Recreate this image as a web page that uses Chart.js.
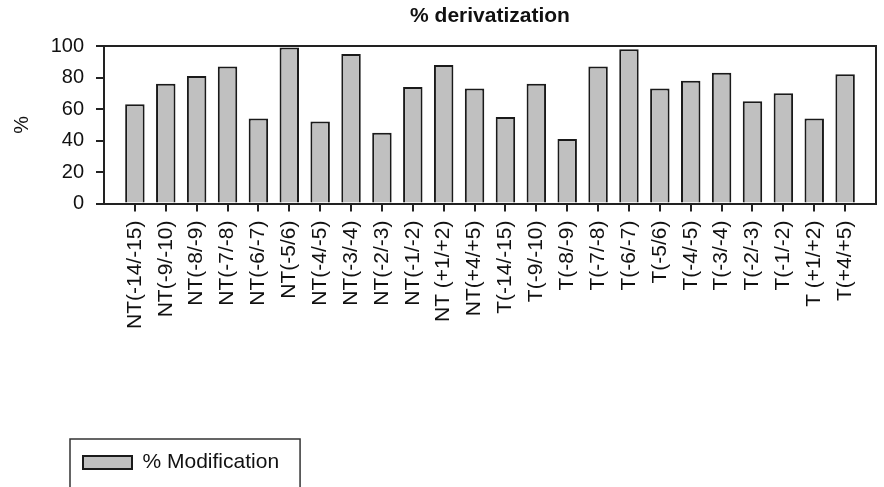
<!DOCTYPE html>
<html>
<head>
<meta charset="utf-8">
<script src="https://cdn.jsdelivr.net/npm/chart.js@4/dist/chart.umd.min.js"></script>
<style>
  html, body { margin: 0; padding: 0; background: #fff; }
  #wrap { width: 884px; height: 487px; }
</style>
</head>
<body>
<div id="wrap"><canvas id="c" width="884" height="487"></canvas></div>
<script>
// Cleavage sites, non-tryptic (NT) then tryptic (T)
const categories = [
  'NT(-14/-15)', 'NT(-9/-10)', 'NT(-8/-9)', 'NT(-7/-8)', 'NT(-6/-7)', 'NT(-5/6)',
  'NT(-4/-5)', 'NT(-3/-4)', 'NT(-2/-3)', 'NT(-1/-2)', 'NT (+1/+2)', 'NT(+4/+5)',
  'T(-14/-15)', 'T(-9/-10)', 'T(-8/-9)', 'T(-7/-8)', 'T(-6/-7)', 'T(-5/6)',
  'T(-4/-5)', 'T(-3/-4)', 'T(-2/-3)', 'T(-1/-2)', 'T (+1/+2)', 'T(+4/+5)'
];
// % Modification per site
const modificationPct = [
  63, 76, 81, 87, 54, 99, 52, 95, 45, 74, 88, 73,
  55, 76, 41, 87, 98, 73, 78, 83, 65, 70, 54, 82
];
const yTickValues = [0, 20, 40, 60, 80, 100];

const FONT = '"Liberation Sans", Arial, sans-serif';
const INK = '#111';
const LINE = '#222';

// top and right edges of the plot box
const plotFrame = {
  id: 'plotFrame',
  afterDatasetsDraw(chart) {
    const { ctx, chartArea: a } = chart;
    ctx.save();
    ctx.strokeStyle = LINE;
    ctx.lineWidth = 2;
    ctx.beginPath();
    ctx.moveTo(a.left, a.top);
    ctx.lineTo(a.right, a.top);
    ctx.lineTo(a.right, a.bottom);
    ctx.stroke();
    ctx.restore();
  }
};

// indent the legend and put a box around it
const legendFrame = {
  id: 'legendFrame',
  afterLayout(chart) {
    const lg = chart.legend;
    lg.left += 73;
    lg.right += 73;
  },
  afterDraw(chart) {
    const lg = chart.legend;
    const ctx = chart.ctx;
    const lab = lg.options.labels;
    const pad = lab.padding;
    ctx.save();
    ctx.font = lab.font.size + 'px ' + FONT;
    const tw = ctx.measureText(lg.legendItems[0].text).width;
    const x0 = lg.left + pad - 13;
    const x1 = lg.left + pad + lab.boxWidth + lab.font.size / 2 + tw + 21;
    const cy = lg.top + pad + lab.font.size / 2;
    ctx.strokeStyle = '#333';
    ctx.lineWidth = 1.5;
    ctx.strokeRect(x0, cy - 23.5, x1 - x0, 52);
    ctx.restore();
  }
};

new Chart(document.getElementById('c'), {
  type: 'bar',
  data: {
    datasets: [{
      label: '% Modification',
      data: modificationPct.map((v, i) => ({ x: i, y: v })),
      backgroundColor: '#c0c0c0',
      borderColor: '#1a1a1a',
      borderWidth: 2,
      categoryPercentage: 1,
      barPercentage: 0.63
    }]
  },
  options: {
    responsive: false,
    devicePixelRatio: 1,
    animation: false,
    layout: { padding: { left: 0, right: 8, top: 0, bottom: 4 } },
    plugins: {
      title: {
        display: true,
        fullSize: false,
        text: '% derivatization',
        color: INK,
        font: { family: FONT, size: 21, weight: 'bold' },
        padding: { top: 4, bottom: 16.8 }
      },
      legend: {
        display: true,
        position: 'bottom',
        align: 'start',
        labels: {
          color: INK,
          font: { family: FONT, size: 21 },
          boxWidth: 49,
          boxHeight: 13,
          padding: 10
        }
      },
      tooltip: { enabled: false }
    },
    scales: {
      x: {
        type: 'linear',
        min: -1,
        max: categories.length,
        offset: false,
        afterBuildTicks: (scale) => {
          scale.ticks = categories.map((_, i) => ({ value: i }));
        },
        afterFit: (scale) => { scale.height = 238.5; },
        ticks: {
          autoSkip: false,
          maxRotation: 90,
          minRotation: 90,
          padding: 9,
          color: INK,
          font: { family: FONT, size: 21 },
          callback: (v) => categories[v]
        },
        grid: { offset: false, drawOnChartArea: false, drawTicks: true, tickLength: 8, color: LINE, lineWidth: 2 },
        border: { display: true, color: LINE, width: 2 }
      },
      y: {
        min: 0,
        max: 100,
        afterBuildTicks: (scale) => {
          scale.ticks = yTickValues.map(v => ({ value: v }));
        },
        afterFit: (scale) => { scale.width = 104; },
        ticks: {
          padding: 12,
          color: INK,
          font: { family: FONT, size: 20 }
        },
        title: {
          display: true,
          text: '%',
          color: INK,
          font: { family: FONT, size: 20 },
          padding: { top: 10, bottom: 0 }
        },
        grid: { drawOnChartArea: false, drawTicks: true, tickLength: 8, color: LINE, lineWidth: 2 },
        border: { display: true, color: LINE, width: 2 }
      }
    }
  },
  plugins: [plotFrame, legendFrame]
});
</script>
</body>
</html>
